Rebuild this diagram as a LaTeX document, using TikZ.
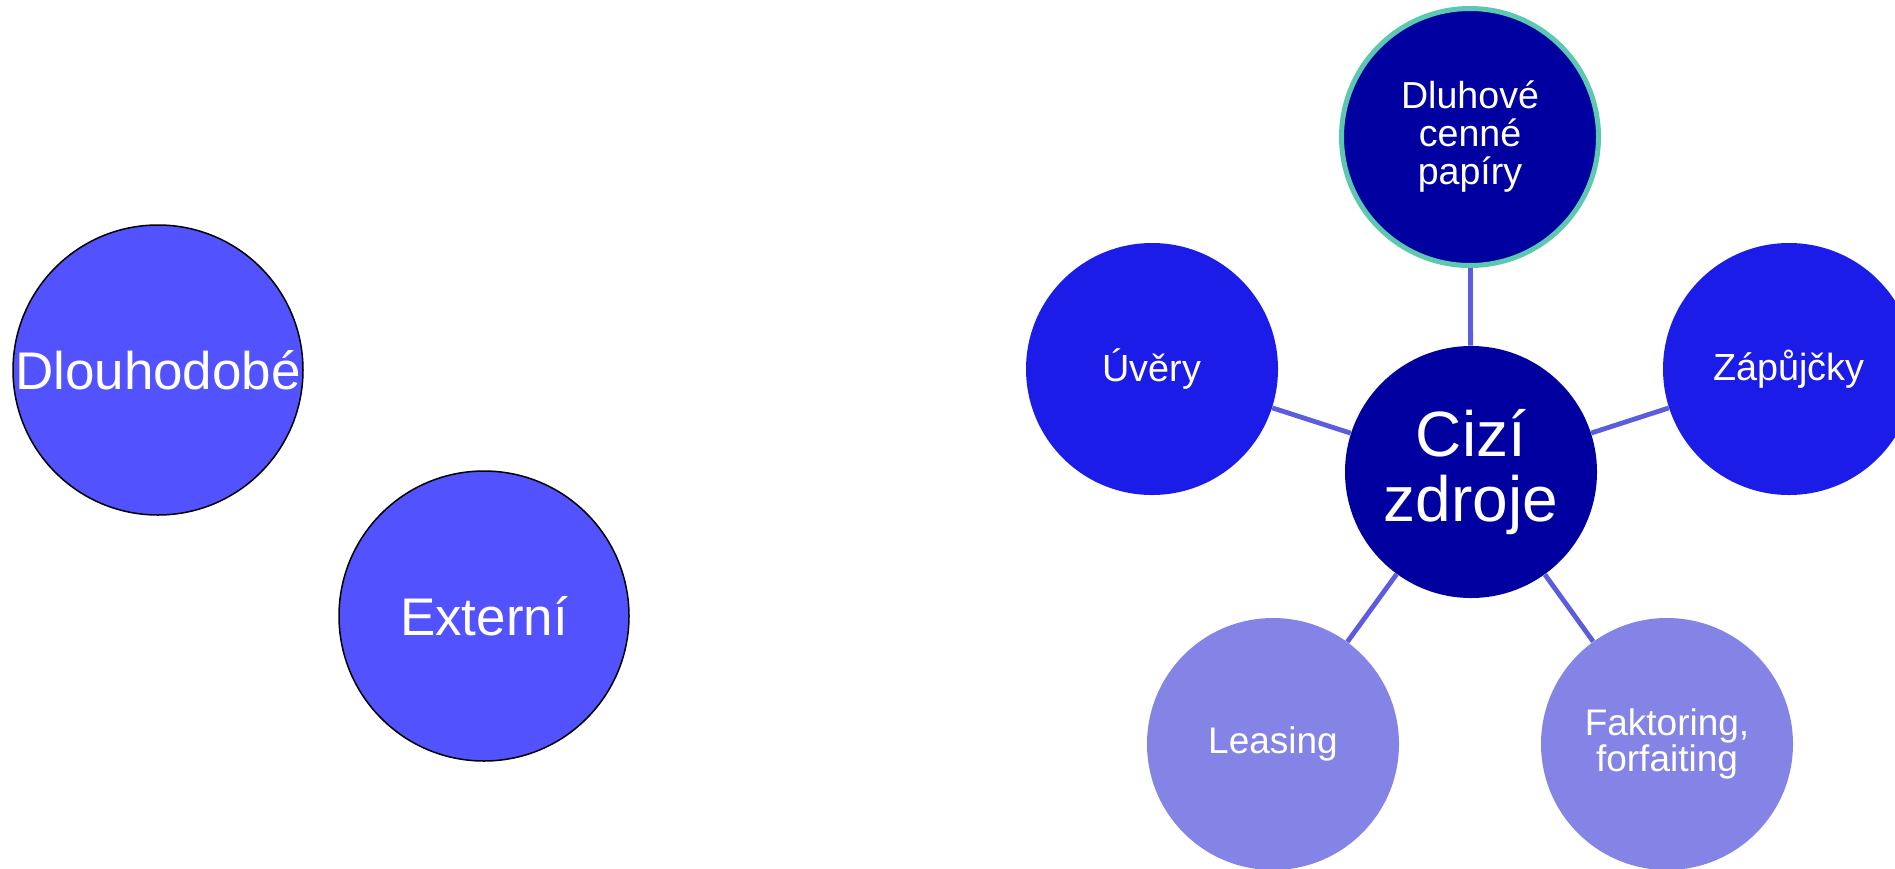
\documentclass[tikz,border=0pt]{standalone}
\usepackage{fontspec}
\setmainfont{Liberation Sans}
\definecolor{leftfill}{RGB}{82,82,255}
\definecolor{darkcore}{RGB}{0,0,160}
\definecolor{midblue}{RGB}{28,28,232}
\definecolor{paleblue}{RGB}{132,132,230}
\definecolor{linkcol}{RGB}{92,92,222}
\definecolor{ringcol}{RGB}{92,200,176}
\begin{document}
\begin{tikzpicture}[x=0.5pt,y=-0.5pt,
  bubble/.style={circle, inner sep=0pt, text=white, align=center},
  leftbub/.style={bubble, fill=leftfill, draw=black, line width=0.75pt, minimum size=145pt, font=\fontsize{26.5}{30}\selectfont},
  corebub/.style={bubble, fill=darkcore, minimum size=126pt, font=\fontsize{32}{32.5}\selectfont},
  topbub/.style={bubble, fill=darkcore, draw=ringcol, line width=2.5pt, minimum size=128.5pt, font=\fontsize{18.8}{19}\selectfont},
  sidebub/.style={bubble, fill=midblue, minimum size=126pt, font=\fontsize{18.9}{19}\selectfont},
  lowbub/.style={bubble, fill=paleblue, minimum size=126pt, font=\fontsize{18.5}{18}\selectfont},
  link/.style={draw=linkcol, line width=2.4pt}]
\clip (0,0) rectangle (1895,868);
\useasboundingbox (0,0) rectangle (1895,868);
\node[leftbub] (dl) at (158,370) {Dlouhodobé};
\node[leftbub] (ex) at (484,616) {Externí};
\node[corebub] (core) at (1471,472) {Cizí\\zdroje};
\node[topbub] (dcp) at (1470,137) {Dluhové\\cenné\\papíry};
\node[sidebub] (uv) at (1152,369) {Úvěry};
\node[sidebub] (zap) at (1789,369) {Zápůjčky};
\node[lowbub] (lea) at (1273,744) {Leasing};
\node[lowbub] (fak) at (1667,744) {Faktoring,\\forfaiting};
\draw[link] (core) -- (dcp);
\draw[link] (core) -- (uv);
\draw[link] (core) -- (zap);
\draw[link] (core) -- (lea);
\draw[link] (core) -- (fak);
\end{tikzpicture}
\end{document}
